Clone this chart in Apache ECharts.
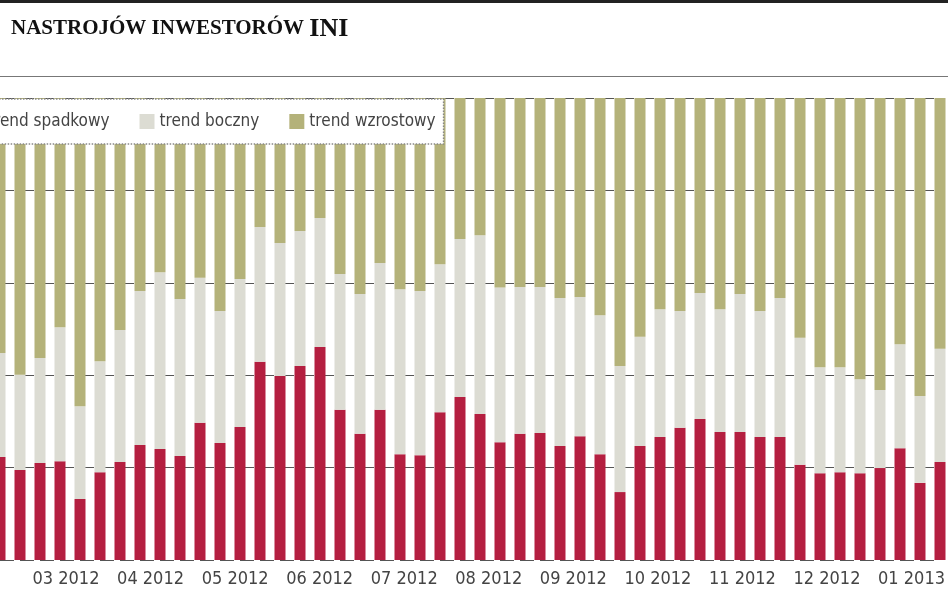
<!DOCTYPE html>
<html><head><meta charset="utf-8">
<script src="https://cdn.jsdelivr.net/npm/echarts@6/dist/echarts.min.js"></script>
<style>html,body{margin:0;padding:0;background:#fff}#c{width:948px;height:593px}</style>
</head><body><div id="c"></div>
<script>
const spadkowy = [22.3,19.5,21.0,21.4,13.2,19.0,21.2,24.9,24.0,22.5,29.7,25.3,28.8,42.9,39.8,42.0,46.1,32.5,27.3,32.5,22.9,22.7,32.0,35.3,31.6,25.5,27.3,27.5,24.7,26.8,22.9,14.7,24.7,26.6,28.6,30.5,27.7,27.7,26.6,26.6,20.6,18.8,19.0,18.8,19.9,24.2,16.7,21.2];
const boczny = [22.5,20.6,22.7,29.0,20.1,24.0,28.6,33.3,38.3,34.0,31.4,28.6,32.0,29.2,28.8,29.2,27.9,29.4,30.3,31.8,35.7,35.5,32.0,34.2,38.7,33.5,31.8,31.6,32.0,30.1,30.1,27.3,23.6,27.7,25.3,27.3,26.6,29.9,27.3,30.1,27.5,22.9,22.7,20.3,16.9,22.5,18.8,24.5];
const wzrostowy = spadkowy.map((v,i)=>+(100 - v - boczny[i]).toFixed(1));
const weeks = spadkowy.map((_,i)=>'t'+(i+1));
const monthLabels = ['02 2012','03 2012','04 2012','05 2012','06 2012','07 2012','08 2012','09 2012','10 2012','11 2012','12 2012','01 2013'];

const chart = echarts.init(document.getElementById('c'));
const font = '"Liberation Sans Narrow","DejaVu Sans Condensed",sans-serif';
chart.setOption({
  animation:false,
  title:{text:'{a|NASTROJÓW INWESTORÓW }{b|INI}',left:6,top:11,
    textStyle:{rich:{a:{fontFamily:'Liberation Serif',fontWeight:'bold',fontSize:21,color:'#111'},
                     b:{fontFamily:'Liberation Serif',fontWeight:'bold',fontSize:26,color:'#111'}}}},
  graphic:[
    {type:'rect',shape:{x:0,y:0,width:948,height:3},style:{fill:'#222'}},
    {type:'rect',shape:{x:0,y:76,width:948,height:1},style:{fill:'#777'}}
  ],
  legend:{left:-40,top:99,itemWidth:15,itemHeight:15,itemGap:30,
    backgroundColor:'#fff',borderColor:'#888',borderWidth:1.5,borderType:'dotted',padding:[14,8,14,8],
    textStyle:{fontFamily:font,fontSize:17,color:'#444'},icon:'rect',
    data:['trend spadkowy','trend boczny','trend wzrostowy']},
  grid:[{left:0,right:8,top:98,bottom:33},{left:66,right:0,top:98,bottom:33}],
  xAxis:[
    {type:'category',data:weeks,gridIndex:0,boundaryGap:false,axisLabel:{show:false},axisTick:{show:false},
     axisLine:{show:false}},
    {type:'value',gridIndex:1,min:1,max:11.34,interval:1,position:'bottom',
     axisLine:{show:false},axisTick:{show:false},splitLine:{show:false},
     axisLabel:{showMinLabel:true,showMaxLabel:false,margin:10,fontFamily:font,fontSize:18,color:'#444',
       formatter:v=>(Math.abs(v-Math.round(v))<1e-6 ? monthLabels[Math.round(v)]||'' : '')}}
  ],
  yAxis:[
    {type:'value',gridIndex:0,min:0,max:100,interval:20,axisLabel:{show:false},axisLine:{show:false},axisTick:{show:false},
     splitLine:{lineStyle:{color:'#555',type:[14,6],width:1}}},
    {type:'value',gridIndex:1,show:false}
  ],
  series:[
    {name:'trend spadkowy',type:'bar',stack:'s',data:spadkowy,barWidth:11,itemStyle:{color:'#b41f40'}},
    {name:'trend boczny',type:'bar',stack:'s',data:boczny,barWidth:11,itemStyle:{color:'#dcdcd3'}},
    {name:'trend wzrostowy',type:'bar',stack:'s',data:wzrostowy,barWidth:11,itemStyle:{color:'#b4b27a'}}
  ]
});
</script></body></html>
